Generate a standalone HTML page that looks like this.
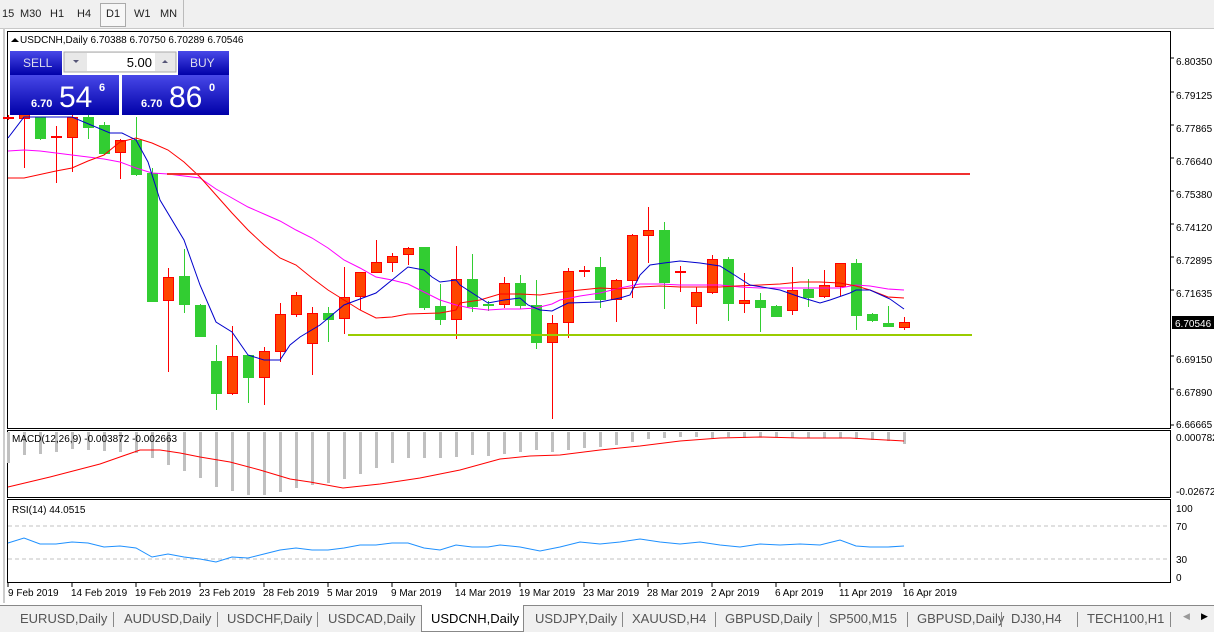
<!DOCTYPE html>
<html><head><meta charset="utf-8"><style>
body{margin:0;width:1214px;height:631px;overflow:hidden;background:#fff;font-family:"Liberation Sans",sans-serif;position:relative}
.tb{position:absolute;left:0;top:0;width:1214px;height:28px;background:#f0f0f0;border-bottom:1px solid #c8c8c8}
.tb span{position:absolute;top:8px;font-size:11px;color:#222}
.tabs{position:absolute;left:0;top:605px;width:1214px;height:26px;background:#f0f0f0;border-top:1px solid #888}
.tabs span{position:absolute;top:5px;font-size:13px;color:#555}
.tabs i{position:absolute;top:6px;width:1px;height:15px;background:#888}
svg text{font-family:"Liberation Sans",sans-serif}
</style></head><body>
<div class="tb">
<span style="left:2px">15</span><span style="left:20px">M30</span><span style="left:50px">H1</span><span style="left:77px">H4</span>
<div style="position:absolute;left:100px;top:3px;width:24px;height:22px;border:1px solid #aaa;background:#f7f7f7"></div>
<span style="left:106px">D1</span><span style="left:134px">W1</span><span style="left:160px">MN</span>
<div style="position:absolute;left:183px;top:0;width:1px;height:27px;background:#bbb"></div>
</div>
<svg width="1214" height="631" style="position:absolute;left:0;top:0" id="s">
<rect x="3" y="28" width="2" height="575" fill="#ccc"/>
<rect x="7.5" y="31.5" width="1163" height="397" fill="none" stroke="#000"/>
<rect x="7.5" y="430.5" width="1163" height="67" fill="none" stroke="#000"/>
<rect x="7.5" y="499.5" width="1163" height="83" fill="none" stroke="#000"/>
<line x1="8" y1="526" x2="1170" y2="526" stroke="#c0c0c0" stroke-dasharray="4,3"/>
<line x1="8" y1="559" x2="1170" y2="559" stroke="#c0c0c0" stroke-dasharray="4,3"/>
<g id="g"></g>
<line x1="167" y1="174" x2="970" y2="174" stroke="#f03030" stroke-width="2"/>
<line x1="348" y1="335" x2="972" y2="335" stroke="#99cc00" stroke-width="2"/>
<g font-size="10" fill="#000">
<text x="1176" y="65">6.80350</text><text x="1176" y="99">6.79125</text><text x="1176" y="132">6.77865</text>
<text x="1176" y="165">6.76640</text><text x="1176" y="198">6.75380</text><text x="1176" y="231">6.74120</text>
<text x="1176" y="264">6.72895</text><text x="1176" y="297">6.71635</text>
<text x="1176" y="363">6.69150</text><text x="1176" y="396">6.67890</text><text x="1176" y="428">6.66665</text>
<text x="1176" y="441">0.000782</text><text x="1176" y="495">-0.026721</text>
<text x="1176" y="512">100</text><text x="1176" y="530">70</text><text x="1176" y="563">30</text><text x="1176" y="581">0</text>
</g>
<rect x="1172" y="316" width="42" height="13" fill="#000"/>
<text x="1175" y="327" font-size="10" fill="#fff">6.70546</text>
<g font-size="10" fill="#000">
<text x="20" y="43">USDCNH,Daily  6.70388 6.70750 6.70289 6.70546</text>
<text x="12" y="442">MACD(12,26,9) -0.003872 -0.002663</text>
<text x="12" y="513">RSI(14) 44.0515</text>
</g>
<path d="M11 42 l4 -4 l4 4z" fill="#000"/>
<g font-size="10" fill="#000">
<text x="8" y="596">9 Feb 2019</text><text x="71" y="596">14 Feb 2019</text><text x="135" y="596">19 Feb 2019</text>
<text x="199" y="596">23 Feb 2019</text><text x="263" y="596">28 Feb 2019</text><text x="327" y="596">5 Mar 2019</text>
<text x="391" y="596">9 Mar 2019</text><text x="455" y="596">14 Mar 2019</text><text x="519" y="596">19 Mar 2019</text>
<text x="583" y="596">23 Mar 2019</text><text x="647" y="596">28 Mar 2019</text><text x="711" y="596">2 Apr 2019</text>
<text x="775" y="596">6 Apr 2019</text><text x="839" y="596">11 Apr 2019</text><text x="903" y="596">16 Apr 2019</text>
</g>
<defs><linearGradient id="bl" x1="0" y1="0" x2="0" y2="1"><stop offset="0" stop-color="#4848e8"/><stop offset="1" stop-color="#0000a8"/></linearGradient></defs>
<rect x="10" y="51" width="52" height="24" fill="url(#bl)"/>
<rect x="178" y="51" width="51" height="24" fill="url(#bl)"/>
<rect x="10" y="75" width="109" height="40" fill="url(#bl)"/>
<rect x="122" y="75" width="107" height="40" fill="url(#bl)"/>
<rect x="64" y="52" width="112" height="20" fill="#e8e8e8" stroke="#aaa"/>
<rect x="87" y="53" width="68" height="18" fill="#fff"/>
<path d="M73 60 l3 3 l3 -3z" fill="#557"/><path d="M162 63 l3 -3 l3 3z" fill="#557"/>
<text x="152" y="67" font-size="13" fill="#000" text-anchor="end">5.00</text>
<text x="23" y="67" font-size="12" fill="#dde">SELL</text>
<text x="190" y="67" font-size="12" fill="#dde">BUY</text>
<text x="31" y="107" font-size="11" fill="#fff" font-weight="bold">6.70</text>
<text x="59" y="107" font-size="30" fill="#fff">54</text>
<text x="99" y="91" font-size="11" fill="#fff" font-weight="bold">6</text>
<text x="141" y="107" font-size="11" fill="#fff" font-weight="bold">6.70</text>
<text x="169" y="107" font-size="30" fill="#fff">86</text>
<text x="209" y="91" font-size="11" fill="#fff" font-weight="bold">0</text>
</svg>
<div class="tabs">
<span style="left:20px">EURUSD,Daily</span><i style="left:113px"></i><span style="left:124px">AUDUSD,Daily</span><i style="left:217px"></i><span style="left:227px">USDCHF,Daily</span><i style="left:317px"></i><span style="left:328px">USDCAD,Daily</span>
<div style="position:absolute;left:421px;top:-1px;width:101px;height:26px;background:#fff;border:1px solid #888;border-top:none"></div>
<span style="left:431px;color:#000">USDCNH,Daily</span><span style="left:535px">USDJPY,Daily</span><i style="left:622px"></i><span style="left:632px">XAUUSD,H4</span><i style="left:715px"></i><span style="left:725px">GBPUSD,Daily</span><i style="left:818px"></i>
<span style="left:829px">SP500,M15</span><i style="left:907px"></i><span style="left:917px">GBPUSD,Daily</span><i style="left:1001px"></i><span style="left:1011px">DJ30,H4</span><i style="left:1077px"></i><span style="left:1087px">TECH100,H1</span><i style="left:1170px"></i>
<span style="left:1183px;font-size:9px;color:#999">◀</span><span style="left:1201px;font-size:9px;color:#000">▶</span>
</div>
<script>
var C=[[8,'r',118,118,115,120],[24,'r',113,118,100,168],[40,'g',117,138,117,140],[56,'r',137,137,126,183],[72,'r',117,137,110,172],[88,'g',117,127,115,139],[104,'g',125,153,122,155],[120,'r',140,152,139,179],[136,'g',140,174,117,176],[152,'g',173,301,168,301],[168,'r',277,300,268,372],[184,'g',276,304,249,313],[200,'g',305,336,304,337],[216,'g',361,393,345,410],[232,'r',356,393,326,395],[248,'g',355,377,355,403],[264,'r',351,377,347,405],[280,'r',314,351,303,362],[296,'r',295,314,292,317],[312,'r',313,343,307,375],[328,'g',313,319,307,342],[344,'r',297,318,267,334],[360,'r',272,296,272,310],[376,'r',262,272,240,273],[392,'r',256,262,253,272],[408,'r',248,254,247,265],[424,'g',247,307,247,310],[440,'g',306,319,284,325],[456,'r',279,319,246,339],[472,'g',279,306,254,312],[488,'g',305,305,301,311],[504,'r',283,304,277,308],[520,'g',283,305,275,309],[536,'g',305,342,280,349],[552,'r',323,342,315,419],[568,'r',271,322,268,338],[584,'r',271,271,266,277],[600,'g',267,299,257,308],[616,'r',280,299,279,322],[632,'r',235,280,234,298],[648,'r',230,235,207,263],[664,'g',230,282,222,309],[680,'r',272,272,266,292],[696,'r',292,306,287,324],[712,'r',259,292,255,294],[728,'g',259,303,257,321],[744,'r',300,303,273,313],[760,'g',300,307,293,332],[776,'g',306,316,305,316],[792,'r',290,310,267,315],[808,'g',289,297,279,307],[824,'r',285,296,270,298],[840,'r',263,286,263,296],[856,'g',263,315,259,330],[872,'g',314,320,313,322],[888,'g',323,326,306,327],[904,'r',322,327,317,330]];
var h='';
var hb=[463,455,454,452,449,450,451,452,453,458,465,471,478,487,491,495,495,492,488,485,483,479,474,468,463,458,458,458,457,455,456,454,452,450,452,450,448,447,445,442,439,438,437,437,438,437,438,437,437,438,438,438,438,439,440,441,444];
C.forEach(function(c,i){var x=c[0],col=c[1]=='r'?'#ff0000':'#32cd32',f=c[1]=='r'?'#ff4500':'#32cd32';
h+='<line x1="'+(x+.5)+'" y1="'+c[4]+'" x2="'+(x+.5)+'" y2="'+c[5]+'" stroke="'+col+'"/>';
var t=Math.min(c[2],c[3]),b=Math.max(c[2],c[3]);
if(b-t<1)h+='<line x1="'+(x-5)+'" y1="'+t+'" x2="'+(x+6)+'" y2="'+t+'" stroke="'+col+'" stroke-width="2"/>';
else h+='<rect x="'+(x-4.5)+'" y="'+(t+.5)+'" width="10" height="'+(b-t)+'" fill="'+f+'" stroke="'+col+'"/>';
var v=hb[i]||440;h+='<rect x="'+(x-1)+'" y="432" width="3" height="'+(v-432)+'" fill="#c0c0c0"/>';
});
function pl(p,c,w){return '<polyline fill="none" stroke="'+c+'" stroke-width="'+(w||1)+'" points="'+p+'"/>';}
h+=pl("8,151 24,150 40,151 56,153 72,155 88,157 104,159 120,162 136,168 152,173 168,174 200,178 216,189 232,198 248,207 264,214 280,221 296,230 312,238 328,248 344,260 360,268 376,277 392,280 408,284 424,292 440,300 456,305 470,308 488,310 504,309 520,309 536,308 552,304 560,300 580,296 600,293 620,288 640,284 660,284 680,285 700,285 720,285 740,287 760,288 800,288 840,288 856,285 870,286 888,289 904,290","#ff00ff");
h+=pl("8,178 24,178 56,171 72,168 88,161 104,155 120,142 136,138 152,143 168,150 184,162 200,177 216,195 232,213 248,230 264,245 280,258 296,265 312,278 328,290 344,300 360,310 376,318 392,317 408,314 440,313 456,310 460,303 480,300 500,294 520,294 540,295 560,292 580,290 600,288 620,289 640,287 660,286 680,287 700,287 720,287 736,286 760,285 780,284 800,282 820,282 840,283 856,286 870,290 888,297 904,298","#ff0000");
h+=pl("8,138 24,117 50,117 72,117 110,133 122,133 136,140 148,162 160,200 184,240 200,285 216,322 232,332 248,355 264,360 280,360 290,345 300,337 320,325 344,305 376,293 392,280 408,267 424,270 432,277 440,282 456,280 460,285 480,298 488,303 504,300 520,298 528,305 540,310 552,311 568,303 600,302 620,298 630,295 640,275 650,265 664,263 680,261 700,263 720,266 736,276 750,285 780,290 800,297 820,303 830,300 850,293 856,290 870,290 890,299 904,309","#0000cc");
h+=pl("8,487 50,477 100,464 140,450 160,450 180,453 200,457 230,462 260,470 290,479 310,482 343,488 380,484 420,478 460,470 500,459 530,456 560,455 600,450 640,446 680,441 720,438 760,437 800,438 850,438 904,441","#ff0000");
h+=pl("8,543 24,538 40,544 56,544 72,542 88,543 104,547 120,546 136,548 152,557 168,554 184,557 200,559 216,562 232,557 248,558 264,554 280,550 296,548 312,550 328,550 344,548 360,545 376,545 392,543 408,543 424,548 440,550 456,545 472,547 488,547 500,545 520,547 540,551 560,547 580,542 600,544 620,542 640,539 660,542 680,544 700,542 720,545 740,547 760,544 780,545 800,544 820,545 840,540 856,546 870,547 888,547 904,546","#1e90ff");
for(var i=0;i<15;i++){var x=8+i*64;h+='<line x1="'+x+'" y1="583" x2="'+x+'" y2="587" stroke="#000"/>';}
for(var y of [58,92,125,158,191,224,257,290,356,389,425])h+='<line x1="1170" y1="'+y+'" x2="1174" y2="'+y+'" stroke="#000"/>';
document.getElementById('g').innerHTML=h;
</script>
</body></html>
